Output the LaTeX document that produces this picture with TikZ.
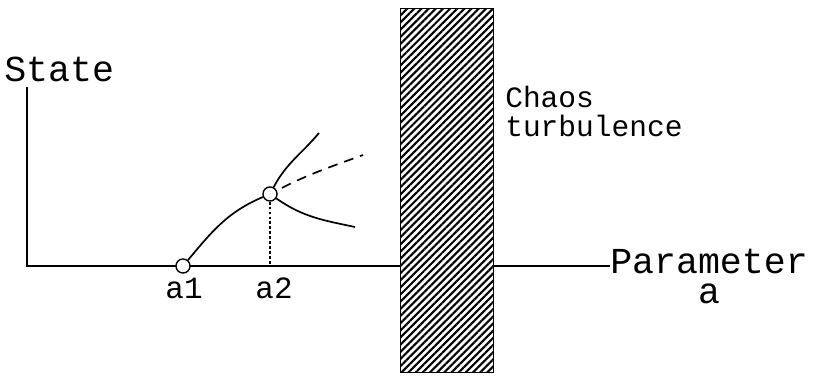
\documentclass[tikz,border=0pt]{standalone}
\usepackage{fontspec}
\setmainfont{Liberation Mono}
\usetikzlibrary{positioning,patterns.meta}
\newcommand\tightlines{\lineskiplimit=-20pt\relax}

\begin{document}
\begin{tikzpicture}[x=0.025cm,y=-0.025cm,
      axis/.style={line width=1.3pt},
      branch/.style={line width=1.2pt},
      dot/.style={circle,draw,fill=white,line width=1pt,minimum size=10pt,inner sep=0pt},
      big/.style={font=\fontsize{26}{21}\selectfont\tightlines,inner sep=0pt},
      small/.style={font=\fontsize{22}{21}\selectfont,inner sep=0pt},
      chaos/.style={pattern={Lines[angle=45,distance=3.6pt,line width=1.5pt]},
                    preaction={fill=white},draw,line width=0.8pt}]
    \useasboundingbox (0,0) rectangle (813,380);
    % axes and labels
    \coordinate (orig) at (27,266);
    \coordinate (top) at (27,87);
    \node[big,anchor=base west] (state) at (4,82) {State};
    \node[big,anchor=base west,align=center] (param) at (610,303) {Parameter\\a};
    \draw[axis] (top) -- (orig) -- (orig -| param.west);
    % chaos region
    \node[chaos,minimum width=93*0.025cm,minimum height=364*0.025cm,anchor=north west] (zone) at (400,8) {};
    \node[font=\fontsize{21}{21}\selectfont\tightlines,inner sep=0pt,align=left,anchor=base west] (turb) at (505,137) {Chaos\\turbulence};
    % bifurcation points
    \node[dot] (bif1) at (183,266) {};
    \node[dot] (bif2) at (270,194) {};
    \coordinate (foot) at (270,265);
    \node[small,anchor=base] (lab1) at (184,298) {a1};
    \node[small,anchor=base] (lab2) at (274,298) {a2};
    \coordinate (up) at (319,133);
    \coordinate (mid) at (363,155);
    \coordinate (low) at (355,227);
    \draw[branch] (bif1) to[out=50,in=203] (bif2);
    \draw[branch] (bif2) to[out=62,in=230] (up);
    \draw[branch] (bif2) to[out=-35,in=168] (low);
    \draw[branch,dash pattern=on 7pt off 5pt,shorten <=4pt] (bif2) to[out=27,in=200] (mid);
    \draw[line width=0.9pt,dash pattern=on 2pt off 1.5pt] (bif2) -- (foot);
  \end{tikzpicture}
\end{document}
